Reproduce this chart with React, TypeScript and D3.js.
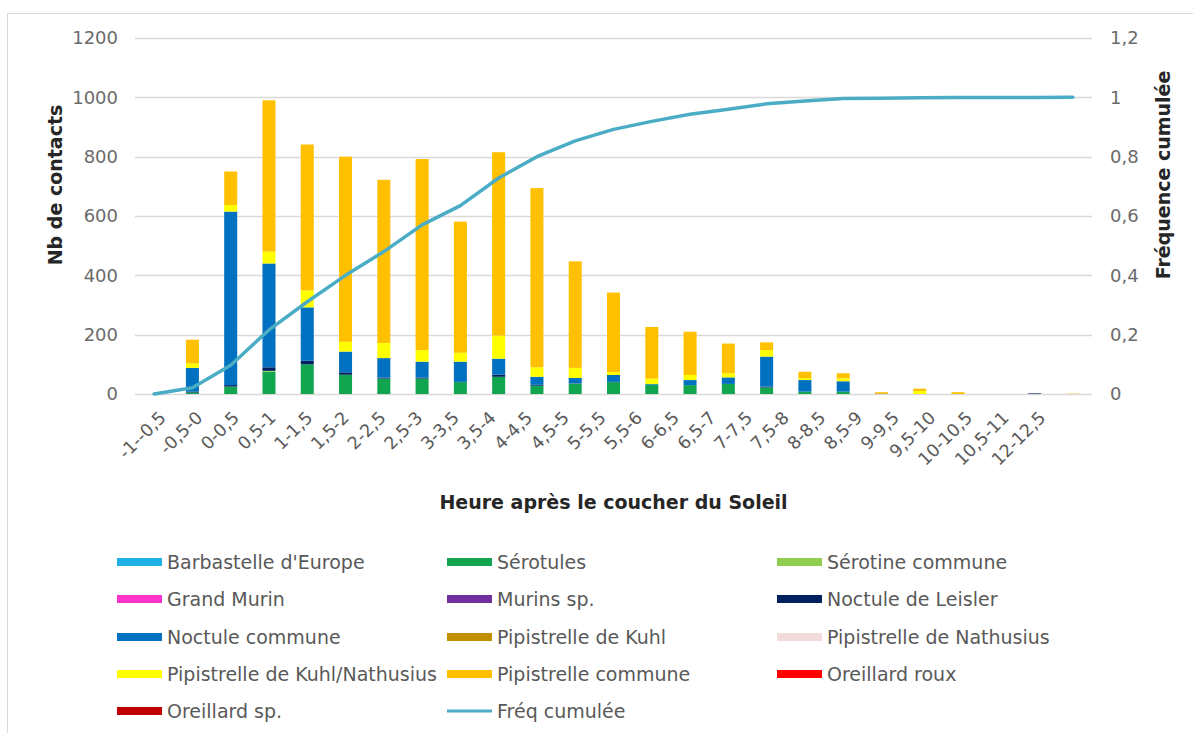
import React, { useEffect, useRef } from "react";
import * as d3 from "d3";

const categories = [
  "-1--0,5", "-0,5-0", "0-0,5", "0,5-1", "1-1,5", "1,5-2", "2-2,5", "2,5-3",
  "3-3,5", "3,5-4", "4-4,5", "4,5-5", "5-5,5", "5,5-6", "6-6,5", "6,5-7",
  "7-7,5", "7,5-8", "8-8,5", "8,5-9", "9-9,5", "9,5-10", "10-10,5", "10,5-11", "12-12,5",
];

// nb de contacts par espèce et par tranche horaire
const barbastelle = [0, 0, 0, 0, 0, 0, 0, 0, 0, 0, 0, 0, 0, 0, 0, 0, 0, 0, 0, 0, 0, 0, 0, 0, 0];
const serotules = [0, 5, 25, 75, 100, 65, 52, 52, 40, 58, 28, 35, 40, 32, 30, 34, 22, 8, 8, 0, 0, 0, 0, 0, 0];
const serotineCommune = [0, 0, 0, 3, 0, 0, 0, 0, 0, 0, 0, 0, 0, 0, 0, 0, 0, 0, 0, 0, 0, 0, 0, 0, 0];
const grandMurin = [0, 0, 0, 0, 0, 0, 0, 0, 0, 0, 0, 0, 0, 0, 0, 0, 0, 0, 0, 0, 0, 0, 0, 0, 0];
const murinsSp = [0, 0, 0, 0, 0, 0, 0, 0, 0, 0, 0, 0, 0, 0, 0, 0, 0, 0, 0, 0, 0, 0, 0, 0, 0];
const noctuleLeisler = [0, 3, 5, 12, 12, 8, 3, 3, 1, 7, 3, 1, 1, 0, 0, 0, 3, 0, 0, 0, 0, 0, 0, 2, 0];
const noctuleCommune = [0, 80, 585, 350, 180, 70, 66, 54, 68, 54, 27, 18, 23, 2, 17, 22, 101, 39, 35, 0, 0, 0, 0, 0, 0];
const pipKuhl = [0, 0, 0, 0, 0, 0, 0, 0, 0, 0, 0, 0, 0, 0, 0, 0, 0, 0, 0, 2, 0, 0, 0, 0, 0];
const pipNathusius = [0, 0, 0, 0, 0, 0, 0, 0, 0, 0, 0, 0, 0, 0, 0, 0, 0, 0, 0, 0, 0, 0, 0, 0, 0];
const pipKuhlNathusius = [0, 15, 22, 40, 57, 33, 51, 39, 30, 78, 32, 34, 10, 18, 17, 14, 22, 6, 10, 0, 10, 0, 0, 0, 0];
const pipCommune = [0, 80, 113, 510, 492, 624, 550, 644, 442, 618, 604, 359, 268, 174, 146, 100, 26, 22, 17, 4, 8, 6, 0, 0, 1];
const oreillardRoux = [0, 0, 0, 0, 0, 0, 0, 0, 0, 0, 0, 0, 0, 0, 0, 0, 0, 0, 0, 0, 0, 0, 0, 0, 0];
const oreillardSp = [0, 0, 0, 0, 0, 0, 0, 0, 0, 0, 0, 0, 0, 0, 0, 0, 0, 0, 0, 0, 0, 0, 0, 0, 0];

const freqCumulee = [
  0, 0.021, 0.097, 0.216, 0.311, 0.4, 0.48, 0.57, 0.635, 0.728, 0.8, 0.853, 0.892,
  0.919, 0.943, 0.96, 0.978, 0.988, 0.996, 0.997, 0.999, 0.9995, 0.9995, 0.9998, 1,
];

const leftTicks = [0, 200, 400, 600, 800, 1000, 1200];
const rightTicks = [0, 0.2, 0.4, 0.6, 0.8, 1, 1.2];

const series = [
  { name: "Barbastelle d'Europe", color: "#1fb0e6", values: barbastelle },
  { name: "Sérotules", color: "#11a550", values: serotules },
  { name: "Sérotine commune", color: "#8fce4f", values: serotineCommune },
  { name: "Grand Murin", color: "#ff33cc", values: grandMurin },
  { name: "Murins sp.", color: "#7030a0", values: murinsSp },
  { name: "Noctule de Leisler", color: "#002060", values: noctuleLeisler },
  { name: "Noctule commune", color: "#0070c0", values: noctuleCommune },
  { name: "Pipistrelle de Kuhl", color: "#bf8f00", values: pipKuhl },
  { name: "Pipistrelle de Nathusius", color: "#f2dcdb", values: pipNathusius },
  { name: "Pipistrelle de Kuhl/Nathusius", color: "#ffff00", values: pipKuhlNathusius },
  { name: "Pipistrelle commune", color: "#ffc000", values: pipCommune },
  { name: "Oreillard roux", color: "#ff0000", values: oreillardRoux },
  { name: "Oreillard sp.", color: "#c00000", values: oreillardSp },
];

const lineColor = "#4bacc6";
const FONT = "'DejaVu Sans', sans-serif";

export default function App() {
  const ref = useRef<SVGSVGElement>(null);

  useEffect(() => {
    const W = 1193;
    const H = 733;
    const left = 135, right = 1092, top = 38, bottom = 394;

    const svg = d3.select(ref.current);
    svg.selectAll("*").remove();
    svg.attr("width", W).attr("height", H).style("font-family", FONT);

    svg.append("rect").attr("width", W).attr("height", H).attr("fill", "#fff");
    svg
      .append("rect")
      .attr("x", 7.5)
      .attr("y", 13.5)
      .attr("width", W + 10)
      .attr("height", H)
      .attr("fill", "none")
      .attr("stroke", "#d9d9d9");

    const x = d3
      .scaleBand<string>()
      .domain(categories)
      .range([left, right])
      .paddingInner(0.66)
      .paddingOuter(0.33);
    const y = d3.scaleLinear().domain([0, 1200]).range([bottom, top]);
    const yR = d3.scaleLinear().domain([0, 1.2]).range([bottom, top]);

    // grid
    svg
      .append("g")
      .selectAll("line")
      .data(leftTicks)
      .join("line")
      .attr("x1", left)
      .attr("x2", right)
      .attr("y1", (d) => Math.round(y(d)) + 0.5)
      .attr("y2", (d) => Math.round(y(d)) + 0.5)
      .attr("stroke", "#d9d9d9")
      .attr("stroke-width", 1.5);

    // axes
    const gl = svg
      .append("g")
      .attr("transform", `translate(${left},0)`)
      .call(
        d3
          .axisLeft(y)
          .tickValues(leftTicks)
          .tickSize(0)
          .tickPadding(17)
          .tickFormat(d3.format("d"))
      );
    gl.select(".domain").remove();
    gl.selectAll("text").attr("font-size", 18).attr("fill", "#6b6b6b").style("font-family", FONT);

    const fmtR = (d: number) => d.toFixed(1).replace(/\.0$/, "").replace(".", ",");
    const gr = svg
      .append("g")
      .attr("transform", `translate(${right},0)`)
      .call(
        d3
          .axisRight(yR)
          .tickValues(rightTicks)
          .tickSize(0)
          .tickPadding(18)
          .tickFormat((d) => fmtR(+d))
      );
    gr.select(".domain").remove();
    gr.selectAll("text").attr("font-size", 18).attr("fill", "#6b6b6b").style("font-family", FONT);

    // stacked bars
    const rows = categories.map((c, i) => {
      const r: any = { cat: c };
      series.forEach((s) => (r[s.name] = s.values[i]));
      return r;
    });
    const stack = d3.stack<any>().keys(series.map((s) => s.name))(rows);

    svg
      .append("g")
      .selectAll("g")
      .data(stack)
      .join("g")
      .attr("fill", (d, i) => series[i].color)
      .selectAll("rect")
      .data((d) => d)
      .join("rect")
      .attr("x", (d: any) => x(d.data.cat)!)
      .attr("width", x.bandwidth())
      .attr("y", (d) => y(d[1]))
      .attr("height", (d) => y(d[0]) - y(d[1]));

    // cumulative line
    const line = d3
      .line<number>()
      .x((d, i) => x(categories[i])! + x.bandwidth() / 2)
      .y((d) => yR(d));
    svg
      .append("path")
      .datum(freqCumulee)
      .attr("d", line)
      .attr("fill", "none")
      .attr("stroke", lineColor)
      .attr("stroke-width", 3.5)
      .attr("stroke-linejoin", "round")
      .attr("stroke-linecap", "round");

    // x tick labels (rotated)
    const cx = (c: string) => x(c)! + x.bandwidth() / 2;
    const labelX = d3
      .scalePoint<string>()
      .domain(categories)
      .range([cx(categories[0]) + 9, cx(categories[categories.length - 1]) - 30]);
    svg
      .append("g")
      .selectAll("text")
      .data(categories)
      .join("text")
      .attr("transform", (d) => `translate(${labelX(d)! - 5},${410}) rotate(-45)`)
      .attr("text-anchor", "end")
      .attr("dy", "0.71em")
      .attr("font-size", 17.5)
      .attr("fill", "#595959")
      .text((d) => d);

    // axis titles
    svg
      .append("text")
      .attr("x", (left + right) / 2)
      .attr("y", 509)
      .attr("text-anchor", "middle")
      .attr("font-size", 19)
      .attr("font-weight", "bold")
      .attr("fill", "#262626")
      .text("Heure après le coucher du Soleil");

    svg
      .append("text")
      .attr("transform", `translate(62,185) rotate(-90)`)
      .attr("text-anchor", "middle")
      .attr("font-size", 19)
      .attr("font-weight", "bold")
      .attr("fill", "#262626")
      .text("Nb de contacts");

    svg
      .append("text")
      .attr("transform", `translate(1170,175) rotate(-90)`)
      .attr("text-anchor", "middle")
      .attr("font-size", 19)
      .attr("font-weight", "bold")
      .attr("fill", "#262626")
      .text("Fréquence cumulée");

    // legend
    const legendItems = [
      ...series.map((s) => ({ name: s.name, color: s.color, isLine: false })),
      { name: "Fréq cumulée", color: lineColor, isLine: true },
    ];
    const colX = [117, 447, 777];
    const rowY = [562, 599, 637, 674, 711];
    const lg = svg
      .append("g")
      .selectAll("g")
      .data(legendItems)
      .join("g")
      .attr("transform", (d, i) => `translate(${colX[i % 3]},${rowY[Math.floor(i / 3)]})`);
    lg.each(function (d) {
      const g = d3.select(this);
      if (d.isLine) {
        g.append("line")
          .attr("x1", 0)
          .attr("x2", 45)
          .attr("stroke", d.color)
          .attr("stroke-width", 3);
      } else {
        g.append("rect").attr("y", -4).attr("width", 45).attr("height", 8).attr("fill", d.color);
      }
      g.append("text")
        .attr("x", 50)
        .attr("dy", "0.35em")
        .attr("font-size", 19)
        .attr("fill", "#595959")
        .text(d.name);
    });
  }, []);

  return (
    <svg ref={ref} style={{ position: "absolute", left: 0, top: 0, display: "block" }}></svg>
  );
}
